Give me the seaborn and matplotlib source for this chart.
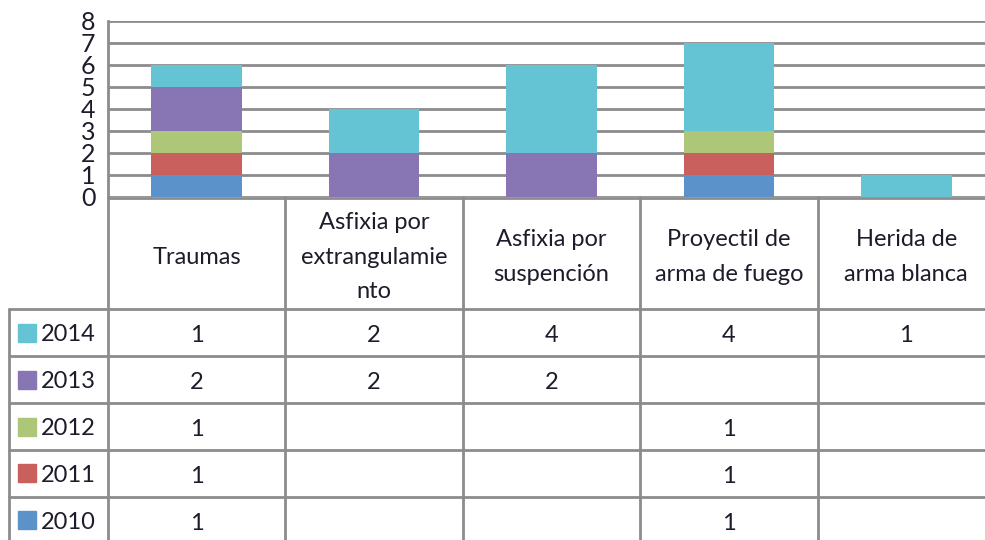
import numpy as np
import pandas as pd
import seaborn as sns
import matplotlib.pyplot as plt
from matplotlib.patches import Rectangle

# Data
categories = ["Traumas", "Asfixia por extrangulamiento", "Asfixia por suspención",
              "Proyectil de arma de fuego", "Herida de arma blanca"]
header_labels = ["Traumas", "Asfixia por\nextrangulamie\nnto", "Asfixia por\nsuspención",
                 "Proyectil de\narma de fuego", "Herida de\narma blanca"]
years = ["2010", "2011", "2012", "2013", "2014"]
v2010 = [1, 0, 0, 1, 0]
v2011 = [1, 0, 0, 1, 0]
v2012 = [1, 0, 0, 1, 0]
v2013 = [2, 2, 2, 0, 0]
v2014 = [1, 2, 4, 4, 1]
colors = ["#5b92c9", "#c9605e", "#aec677", "#8775b4", "#64c4d4"]

series = [v2010, v2011, v2012, v2013, v2014]
df = pd.DataFrame(dict(zip(years, series)), index=categories)
cum = df.cumsum(axis=1)

sns.set_style("white")
plt.rcParams["font.family"] = ["Lato", "DejaVu Sans"]

W, H = 985, 540
fig = plt.figure(figsize=(W / 100, H / 100), dpi=100)


def px(x0, y0, x1, y1):
    return [x0 / W, 1 - y1 / H, (x1 - x0) / W, (y1 - y0) / H]


ax = fig.add_axes(px(108, 21, 995, 197))
tax = fig.add_axes(px(108, 197, 995, 544))

grid_c = "#8c8c8c"
text_c = "#1c1c2a"

# stacked bars: draw cumulative totals from the top segment down
for year, col in zip(reversed(years), reversed(colors)):
    sns.barplot(x=categories, y=cum[year].values, color=col, width=0.51,
                saturation=1, linewidth=0, ax=ax, order=categories)

ax.set_ylim(0, 8)
ax.set_xlim(-0.5, 4.5)
ax.set_yticks(range(0, 9))
ax.set_axisbelow(True)
ax.yaxis.grid(True, color=grid_c, lw=2)
ax.set_xticks([])
ax.set_xlabel("")
ax.tick_params(axis="y", length=0, pad=9, labelsize=18, labelcolor=text_c)
for s in ["top", "right", "bottom"]:
    ax.spines[s].set_visible(False)
ax.spines["left"].set_color(grid_c)
ax.spines["left"].set_linewidth(2)

# data table below the bars
col_px = 887 / 5
hdr = 112 / 47
nrows = len(years)
total = hdr + nrows
leg_w = 99 / col_px

tax.set_xlim(-0.5, 4.5)
tax.set_ylim(total, 0)
tax.axis("off")

lk = dict(color=grid_c, lw=2, clip_on=False)
for k in range(6):
    tax.plot([-0.5 + k, -0.5 + k], [0, total], **lk)
tax.plot([-0.5 - leg_w, -0.5 - leg_w], [hdr, total], **lk)
tax.plot([-0.5, 4.5], [0.03, 0.03], **lk)
for r in range(nrows + 1):
    tax.plot([-0.5 - leg_w, 4.5], [hdr + r, hdr + r], **lk)

fs = 17
for i, lab in enumerate(header_labels):
    tax.text(i, hdr / 2 + 0.09, lab, ha="center", va="center", fontsize=fs,
             color=text_c, linespacing=1.8, clip_on=False)

for r, (year, col) in enumerate(zip(reversed(years), reversed(colors))):
    yc = hdr + r + 0.5
    sq = 18 / 47
    tax.add_patch(Rectangle((-0.5 - (108 - 18) / col_px, yc - sq / 2), 18 / col_px, sq,
                            color=col, clip_on=False))
    tax.text(-0.5 - (108 - 41) / col_px, yc + 0.05, year, ha="left", va="center",
             fontsize=fs, color=text_c, clip_on=False)
    for i, v in enumerate(df[year].values):
        if v:
            tax.text(i, yc + 0.06, str(v), ha="center", va="center", fontsize=fs,
                     color=text_c, clip_on=False)

fig.savefig("out.png", dpi=100)
